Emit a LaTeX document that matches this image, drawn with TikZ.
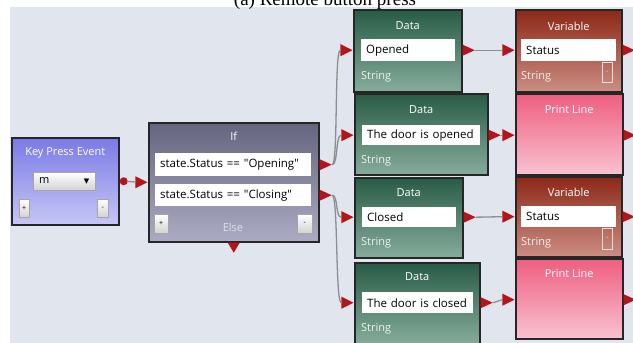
\documentclass[tikz,border=0pt]{standalone}
\usepackage{fontspec}
\setmainfont{Open Sans}
\newfontfamily\captionfont{Liberation Serif}
\newfontfamily\symfont{DejaVu Sans}
\usetikzlibrary{positioning, arrows.meta, shapes.geometric}

\definecolor{panelbg}{HTML}{E1E5EE}
\definecolor{datatop}{HTML}{285C47}
\definecolor{databot}{HTML}{86AC9C}
\definecolor{vartop}{HTML}{8C2817}
\definecolor{varbot}{HTML}{CC8E84}
\definecolor{printtop}{HTML}{EE5E80}
\definecolor{printbot}{HTML}{F9C2D1}
\definecolor{keytop}{HTML}{7A7AE6}
\definecolor{keybot}{HTML}{C6C6F7}
\definecolor{iftop}{HTML}{65657F}
\definecolor{ifbot}{HTML}{ABABC3}
\definecolor{portred}{HTML}{B3151B}
\definecolor{wiregray}{HTML}{8E8E8E}

\begin{document}
\begin{tikzpicture}[x=1pt, y=-1pt,
        block/.style={draw=black!85, line width=1.5pt, rectangle, anchor=north west, inner sep=0pt},
        data_block/.style={block, top color=datatop, bottom color=databot},
        var_block/.style={block, top color=vartop, bottom color=varbot},
        print_block/.style={block, top color=printtop, bottom color=printbot},
        key_block/.style={block, top color=keytop, bottom color=keybot},
        if_block/.style={block, top color=iftop, bottom color=ifbot},
        title/.style={font=\fontsize{11}{13}\selectfont, text=white, inner sep=0pt},
        type_text/.style={font=\fontsize{11}{13}\selectfont, text=white!88!gray, anchor=west, inner sep=0pt},
        field/.style={fill=white, anchor=north west, inner xsep=5pt, inner ysep=0pt, align=left, font=\fontsize{11.5}{13}\selectfont},
        small_btn/.style={draw=gray!70, top color=white, bottom color=gray!35, anchor=north west, inner sep=0pt, font=\scriptsize},
        in_port/.style={isosceles triangle, isosceles triangle stretches, minimum width=12pt, minimum height=12pt, inner sep=0pt, fill=portred, anchor=apex},
        out_port/.style={isosceles triangle, isosceles triangle stretches, minimum width=11pt, minimum height=12pt, inner sep=0pt, fill=portred, anchor=lower side},
        wire/.style={draw=wiregray, line width=1.3pt}
    ]
        \useasboundingbox (0,0) rectangle (633,343);
        \clip (0,0) rectangle (633,343);
        \fill[panelbg] (10,7) rectangle (640,350);
        \node[font=\captionfont\fontsize{19}{19}\selectfont, anchor=base] (caption) at (325,5) {(a) Remote button press};

        % key press event
        \node[key_block, minimum width=107pt, minimum height=87pt] (key) at (11,137) {};
        \node[title] at ([yshift=-16pt]key.north) {Key Press Event};
        \node[small_btn, minimum width=62pt, minimum height=18pt, font=\fontsize{11}{12}\selectfont, text width=50pt, inner xsep=6pt, align=left] (keysel) at (33,172) {m\hfill{\symfont\scriptsize ▼}};
        \node[small_btn, minimum width=10pt, minimum height=18pt] (keyplus) at (19,199) {+};
        \node[small_btn, minimum width=11pt, minimum height=18pt] (keyminus) at (97,199) {-};

        % if block
        \node[if_block, minimum width=170pt, minimum height=119pt] (ifblk) at (148,122) {};
        \node[title] at ([yshift=-14pt]ifblk.north) {If};
        \node[field, text width=146pt, minimum height=23pt] (opening) at (155,153) {state.Status == \textquotedbl Opening\textquotedbl};
        \node[field, text width=146pt, minimum height=22pt] (closing) at (155,184) {state.Status == \textquotedbl Closing\textquotedbl};
        \node[small_btn, minimum width=14pt, minimum height=19pt] (ifplus) at (154,214) {+};
        \node[small_btn, minimum width=15pt, minimum height=19pt] (ifminus) at (297,214) {-};
        \node[title, text=white!80!iftop] (else) at (233,227) {Else};

        % data blocks
        \node[data_block, minimum width=108pt, minimum height=82pt] (data1) at (353,9) {};
        \node[title] at ([yshift=-17pt]data1.north) {Data};
        \node[field, text width=84pt, minimum height=22pt] (opened) at (361,39) {Opened};
        \node[type_text] at (361,77) {String};

        \node[data_block, minimum width=133pt, minimum height=81pt] (data2) at (354,93) {};
        \node[title] at ([yshift=-17pt]data2.north) {Data};
        \node[field, text width=108pt, minimum height=20pt] (openmsg) at (362,125) {The door is opened};
        \node[type_text] at (361,161) {String};

        \node[data_block, minimum width=108pt, minimum height=80pt] (data3) at (354,177) {};
        \node[title] at ([yshift=-16pt]data3.north) {Data};
        \node[field, text width=84pt, minimum height=20pt] (closed) at (362,207) {Closed};
        \node[type_text] at (361,243) {String};

        \node[data_block, minimum width=125pt, minimum height=82pt] (data4) at (354,262) {};
        \node[title] at ([yshift=-15pt]data4.north) {Data};
        \node[field, text width=101pt, minimum height=21pt] (closemsg) at (362,292) {The door is closed};
        \node[type_text] at (361,329) {String};

        % variable and print line blocks
        \node[var_block, minimum width=106pt, minimum height=82pt] (var1) at (515,9) {};
        \node[title] at ([yshift=-17pt]var1.north) {Variable};
        \node[field, text width=85pt, minimum height=22pt] (status1) at (521,39) {Status};
        \node[type_text] at (521,77) {String};
        \node[small_btn, draw=white!75!gray, top color=white!0, bottom color=white!0, fill opacity=0, text opacity=1, minimum width=10pt, minimum height=20pt, text=white!80!gray] (varbtn1) at (602,62) {-};

        \node[print_block, minimum width=107pt, minimum height=81pt] (print1) at (515,93) {};
        \node[title] at ([yshift=-17pt]print1.north) {Print Line};

        \node[var_block, minimum width=106pt, minimum height=80pt] (var2) at (515,176) {};
        \node[title] at ([yshift=-16pt]var2.north) {Variable};
        \node[field, text width=85pt, minimum height=21pt] (status2) at (521,206) {Status};
        \node[type_text] at (521,243) {String};
        \node[small_btn, draw=white!75!gray, top color=white!0, bottom color=white!0, fill opacity=0, text opacity=1, minimum width=10pt, minimum height=21pt, text=white!80!gray] (varbtn2) at (602,228) {-};

        \node[print_block, minimum width=107pt, minimum height=80pt] (print2) at (515,258) {};
        \node[title] at ([yshift=-16pt]print2.north) {Print Line};

        % ports
        \node[circle, fill=portred, minimum size=8pt, inner sep=0pt, anchor=west] (keyout) at (key.east) {};
        \node[in_port] (ifin) at (ifblk.west) {};
        \node[out_port] (ifout1) at (opening -| ifblk.east) {};
        \node[out_port] (ifout2) at (closing -| ifblk.east) {};
        \node[out_port, shape border rotate=-90, minimum width=12pt, minimum height=10pt] (elseout) at (ifblk.south) {};

        \node[in_port] (d1in) at (opened -| data1.west) {};
        \node[out_port] (d1out) at (opened -| data1.east) {};
        \node[in_port] (d2in) at (openmsg -| data2.west) {};
        \node[out_port] (d2out) at (openmsg -| data2.east) {};
        \node[in_port] (d3in) at (closed -| data3.west) {};
        \node[out_port] (d3out) at (closed -| data3.east) {};
        \node[in_port] (d4in) at (closemsg -| data4.west) {};
        \node[out_port] (d4out) at (closemsg -| data4.east) {};

        \node[in_port] (v1in) at (status1 -| var1.west) {};
        \node[out_port] (v1out) at (status1 -| var1.east) {};
        \node[in_port] (p1in) at (openmsg -| print1.west) {};
        \node[out_port] (p1out) at (openmsg -| print1.east) {};
        \node[in_port] (v2in) at (status2 -| var2.west) {};
        \node[out_port] (v2out) at (status2 -| var2.east) {};
        \node[in_port] (p2in) at ([yshift=3pt]closemsg -| print2.west) {};
        \node[out_port] (p2out) at ([yshift=3pt]closemsg -| print2.east) {};

        % wires
        \draw[wire] (keyout) -- (ifin);
        \draw[wire] (ifout1.apex) to[out=0, in=180, out distance=6pt, in distance=6pt] (d1in.lower side);
        \draw[wire] (ifout1.apex) to[out=0, in=180, out distance=6pt, in distance=6pt] (d2in.lower side);
        \draw[wire] (ifout2.apex) to[out=0, in=180, out distance=6pt, in distance=6pt] (d3in.lower side);
        \draw[wire] (ifout2.apex) to[out=0, in=180, out distance=6pt, in distance=6pt] (d4in.lower side);
        \draw[wire] (d1out.apex) -- (v1in.lower side);
        \draw[wire] (d2out.apex) -- (p1in.lower side);
        \draw[wire] (d3out.apex) -- (v2in.lower side);
        \draw[wire] (d4out.apex) to[out=0, in=180] (p2in.lower side);

    \end{tikzpicture}
\end{document}
